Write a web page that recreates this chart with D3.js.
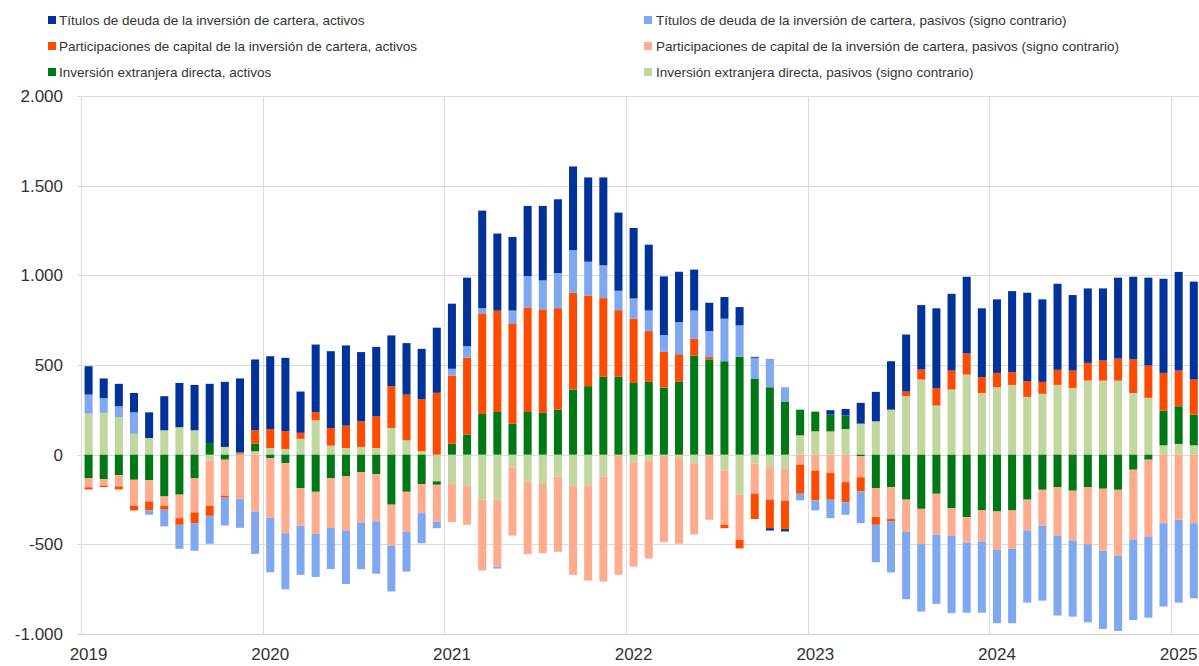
<!DOCTYPE html>
<html>
<head>
<meta charset="utf-8">
<script src="https://cdn.jsdelivr.net/npm/d3@7"></script>
<style>
  html, body { margin: 0; padding: 0; background: #fff; }
  svg { display: block; }
  text { font-family: "Liberation Sans", Arial, sans-serif; fill: #333; }
</style>
</head>
<body>
<svg id="chart" width="1199" height="666"></svg>
<script>
// ---- categories (monthly) ----
const months = [
  "2019-01","2019-02","2019-03","2019-04","2019-05","2019-06","2019-07","2019-08","2019-09","2019-10","2019-11","2019-12",
  "2020-01","2020-02","2020-03","2020-04","2020-05","2020-06","2020-07","2020-08","2020-09","2020-10","2020-11","2020-12",
  "2021-01","2021-02","2021-03","2021-04","2021-05","2021-06","2021-07","2021-08","2021-09","2021-10","2021-11","2021-12",
  "2022-01","2022-02","2022-03","2022-04","2022-05","2022-06","2022-07","2022-08","2022-09","2022-10","2022-11","2022-12",
  "2023-01","2023-02","2023-03","2023-04","2023-05","2023-06","2023-07","2023-08","2023-09","2023-10","2023-11","2023-12",
  "2024-01","2024-02","2024-03","2024-04","2024-05","2024-06","2024-07","2024-08","2024-09","2024-10","2024-11","2024-12",
  "2025-01","2025-02"
];

// ---- series values ----
const fdiLiab = [
  229, 233, 210, 117, 93, 136, 153, 136, -32, 43, 5, 19,
  37, 32, 88, 192, 50, 37, 43, 37, 149, 80, 19, -149,
  -164, -171, -251, -251, -71, -149, -164, -121, -171, -171, -121, -6,
  -43, -32, -6, -13, -50, -6, -88, -223, -50, -65, -80, 108,
  130, 130, 143, 173, 186, 251, 326, 419, 274, 363, 447, 344,
  376, 389, 322, 339, 389, 372, 413, 413, 413, 344, 317, 52,
  60, 52
];
const fdiAssets = [
  -132, -136, -115, -140, -143, -233, -223, -132, 65, -28, -3, 43,
  -20, -47, -186, -207, -132, -121, -97, -108, -279, -207, -164, -19,
  61, 112, 227, 238, 173, 238, 233, 251, 363, 382, 434, 434,
  400, 406, 374, 406, 553, 531, 521, 546, 425, 376, 294, 143,
  110, 93, 75, -9, -186, -182, -251, -302, -218, -298, -348, -311,
  -317, -311, -251, -196, -182, -201, -182, -190, -196, -84, -28, 194,
  210, 171
];
const eqLiab = [
  -50, -37, -62, -145, -118, -52, -131, -190, -253, -201, -245, -317,
  -332, -391, -210, -235, -277, -302, -281, -264, -227, -222, -162, -205,
  -212, -220, -395, -376, -380, -406, -385, -421, -499, -531, -587, -664,
  -581, -547, -482, -484, -395, -357, -303, -252, -168, -186, -177, -56,
  -89, -102, -153, -117, -162, -177, -177, -197, -229, -154, -142, -173,
  -214, -214, -172, -201, -270, -278, -317, -346, -368, -391, -428, -382,
  -363, -382
];
const eqAssets = [
  -12, -8, -17, -26, -50, -22, -37, -60, -56, -11, 8, 75,
  106, 99, 34, 45, 99, 125, 143, 177, 233, 255, 289, 345,
  380, 428, 561, 565, 559, 583, 577, 566, 540, 506, 439, 372,
  358, 283, 199, 154, 93, 13, -19, -48, -141, -159, -158, -162,
  -166, -149, -113, -79, -43, -13, 26, 56, 97, 106, 117, 88,
  80, 71, 88, 67, 84, 97, 99, 112, 123, 187, 180, 210,
  199, 196
];
const debtLiab = [
  106, 82, 60, 119, -24, -93, -134, -154, -156, -155, -160, -236,
  -304, -313, -274, -240, -229, -298, -261, -292, -257, -223, -168, -37,
  38, 65, 29, -8, 72, 175, 162, 196, 238, 188, 183, 108,
  113, 115, 94, 179, 158, 145, 237, 175, 115, 158, 82, -37,
  -56, -103, -69, -177, -209, -285, -378, -376, -385, -432, -391, -397,
  -409, -415, -402, -417, -445, -424, -436, -436, -419, -447, -453, -465,
  -462, -419
];
const debtAssets = [
  158, 110, 125, 108, 143, 190, 247, 253, 330, 363, 412, 394,
  406, 409, 230, 377, 428, 447, 386, 387, 283, 287, 282, 363,
  363, 382, 544, 430, 410, 391, 415, 411, 466, 470, 490, 436,
  393, 367, 327, 281, 228, 158, 121, 102, 5, -13, -13, 0,
  0, 25, 37, 116, 164, 270, 318, 359, 445, 428, 428, 384,
  410, 452, 493, 460, 480, 421, 415, 402, 451, 461, 490, 525,
  550, 546
];

// ---- tick labels ----
const yTicks = [-1000, -500, 0, 500, 1000, 1500, 2000];

// ---- series meta (stack order from zero outward) ----
const seriesKeys = ["fdiLiab", "fdiAssets", "eqLiab", "eqAssets", "debtLiab", "debtAssets"];
const seriesNames = {
  debtAssets: "Títulos de deuda de la inversión de cartera, activos",
  eqAssets: "Participaciones de capital de la inversión de cartera, activos",
  fdiAssets: "Inversión extranjera directa, activos",
  debtLiab: "Títulos de deuda de la inversión de cartera, pasivos (signo contrario)",
  eqLiab: "Participaciones de capital de la inversión de cartera, pasivos (signo contrario)",
  fdiLiab: "Inversión extranjera directa, pasivos (signo contrario)"
};
const seriesColors = {
  debtAssets: "#003299",
  eqAssets: "#ff4b00",
  fdiAssets: "#007816",
  debtLiab: "#80a8f0",
  eqLiab: "#ffac8e",
  fdiLiab: "#c2d69f"
};
const legendLeft = ["debtAssets", "eqAssets", "fdiAssets"];
const legendRight = ["debtLiab", "eqLiab", "fdiLiab"];

const seriesData = { fdiLiab, fdiAssets, eqLiab, eqAssets, debtLiab, debtAssets };
const rows = months.map((m, i) => {
  const r = { month: m };
  seriesKeys.forEach(k => r[k] = seriesData[k][i]);
  return r;
});

const svg = d3.select("#chart");
const W = 1199;

const plotLeft = 81, step = 15.14;
const padIn = 0.47;
const x = d3.scaleBand()
  .domain(months)
  .range([plotLeft, plotLeft + months.length * step])
  .paddingInner(padIn)
  .paddingOuter(padIn / 2);

const y = d3.scaleLinear().domain([-1000, 2000]).range([634, 96]);

const loc = d3.formatLocale({ decimal: ",", thousands: ".", grouping: [3], currency: ["", "€"], minus: "-" });
const fmt = loc.format(",d");

// gridlines horizontal
const grid = svg.append("g");
grid.selectAll("line.h").data(yTicks).join("line")
  .attr("class", "h")
  .attr("x1", plotLeft - 4).attr("x2", W)
  .attr("y1", d => Math.round(y(d)) + 0.5).attr("y2", d => Math.round(y(d)) + 0.5)
  .attr("stroke", d => d === -1000 ? "#cfcfcf" : "#dcdcdc")
  .attr("stroke-width", 1);

// vertical year gridlines
const janMonths = months.filter(m => m.endsWith("-01"));
grid.selectAll("line.v").data(janMonths).join("line")
  .attr("class", "v")
  .attr("x1", d => Math.round(x(d) - x.step() * padIn / 2) + 0.5)
  .attr("x2", d => Math.round(x(d) - x.step() * padIn / 2) + 0.5)
  .attr("y1", y(2000)).attr("y2", y(-1000))
  .attr("stroke", "#dcdcdc").attr("stroke-width", 1);

// stacked bars
const stacked = d3.stack().keys(seriesKeys).offset(d3.stackOffsetDiverging)(rows);
svg.append("g").selectAll("g").data(stacked).join("g")
  .attr("fill", s => seriesColors[s.key])
  .selectAll("rect").data(s => s).join("rect")
  .attr("x", d => x(d.data.month))
  .attr("width", x.bandwidth())
  .attr("y", d => y(Math.max(d[0], d[1])))
  .attr("height", d => Math.abs(y(d[0]) - y(d[1])));

// y axis labels
svg.append("g").selectAll("text").data(yTicks).join("text")
  .attr("x", 63).attr("y", d => y(d))
  .attr("dy", "0.35em")
  .attr("text-anchor", "end")
  .style("font-size", "17px")
  .text(d => fmt(d));

// x axis labels
svg.append("g").selectAll("text").data(janMonths).join("text")
  .attr("x", d => x(d) + x.bandwidth() / 2)
  .attr("y", 660)
  .attr("text-anchor", "middle")
  .style("font-size", "17px")
  .text(d => d.slice(0, 4));

// legend
function drawLegend(keys, sx, tx) {
  const g = svg.append("g");
  const rowsY = [20, 46, 72];
  keys.forEach((k, i) => {
    g.append("rect").attr("x", sx).attr("y", rowsY[i] - 4).attr("width", 8).attr("height", 8)
      .attr("fill", seriesColors[k]);
    g.append("text").attr("x", tx).attr("y", rowsY[i]).attr("dy", "0.35em")
      .style("font-size", "13.5px").text(seriesNames[k]);
  });
}
drawLegend(legendLeft, 48, 59);
drawLegend(legendRight, 644, 656);
</script>
</body>
</html>
